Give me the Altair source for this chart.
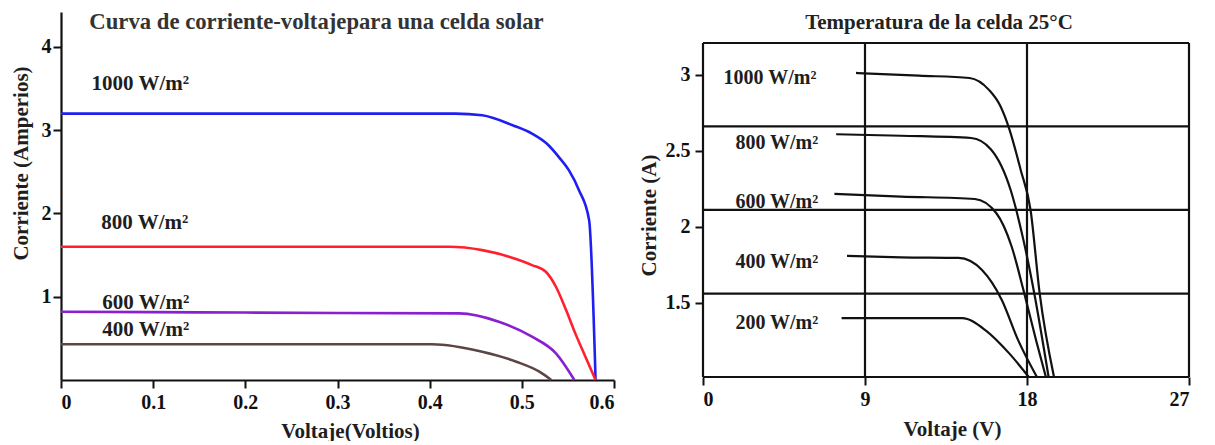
import altair as alt
import pandas as pd

# ---------------- Left panel: single solar cell ----------------
L_V_1000 = [0, 0.10, 0.20, 0.30, 0.428, 0.457, 0.490, 0.511, 0.529, 0.540, 0.551, 0.562, 0.573, 0.580]
L_I_1000 = [3.20, 3.20, 3.20, 3.20, 3.20, 3.18, 3.06, 2.96, 2.82, 2.68, 2.52, 2.28, 1.92, 0.0]
L_V_800 = [0, 0.10, 0.20, 0.30, 0.421, 0.457, 0.486, 0.511, 0.526, 0.537, 0.548, 0.558, 0.569, 0.580]
L_I_800 = [1.60, 1.60, 1.60, 1.60, 1.60, 1.56, 1.48, 1.38, 1.30, 1.12, 0.84, 0.56, 0.28, 0.0]
L_V_600 = [0, 0.10, 0.20, 0.30, 0.432, 0.475, 0.511, 0.537, 0.557]
L_I_600 = [0.82, 0.815, 0.81, 0.805, 0.80, 0.70, 0.52, 0.32, 0.0]
L_V_400 = [0, 0.10, 0.20, 0.30, 0.4025, 0.457, 0.494, 0.519, 0.532]
L_I_400 = [0.43, 0.43, 0.43, 0.43, 0.43, 0.34, 0.22, 0.10, 0.0]

L_SERIES = ["1000", "800", "600", "400"]
L_COLORS = ["#1f1ff2", "#ff1f2e", "#8a1fd2", "#5e4545"]

L_LABELS = ["1000 W/m²", "800 W/m²", "600 W/m²", "400 W/m²"]
L_LABEL_V = [0.086, 0.091, 0.092, 0.092]
L_LABEL_I = [3.55, 1.88, 0.92, 0.60]

L_XTICKS = [0, 0.1, 0.2, 0.3, 0.4, 0.5, 0.6]
L_YTICKS = [1, 2, 3, 4]

# ---------------- Right panel: module at 25 °C ----------------
R_V_1000 = [8.5, 12.0, 14.8, 15.9, 16.5, 17.0, 17.65, 18.2, 18.7, 19.5]
R_I_1000 = [3.013, 2.995, 2.98, 2.90, 2.80, 2.65, 2.375, 2.11, 1.566, 1.013]
R_V_800 = [7.4, 11.0, 14.9, 16.0, 17.1, 17.8, 18.4, 19.2]
R_I_800 = [2.61, 2.60, 2.585, 2.51, 2.24, 1.915, 1.566, 1.013]
R_V_600 = [7.3, 11.0, 15.1, 16.3, 17.15, 17.8, 18.5, 19.05]
R_I_600 = [2.217, 2.20, 2.184, 2.09, 1.87, 1.586, 1.257, 1.013]
R_V_400 = [8.0, 11.0, 14.2, 15.5, 16.6, 17.5, 18.55]
R_I_400 = [1.81, 1.80, 1.796, 1.717, 1.52, 1.257, 1.013]
R_V_200 = [7.7, 11.0, 14.4, 15.7, 17.0, 18.1]
R_I_200 = [1.40, 1.40, 1.40, 1.32, 1.17, 1.013]

R_LABELS = ["1000 W/m²", "800 W/m²", "600 W/m²", "400 W/m²", "200 W/m²"]
R_LABEL_V = [3.72, 4.1, 4.1, 4.1, 4.1]
R_LABEL_I = [2.98, 2.553, 2.164, 1.77, 1.368]

R_GRID_I = [1.013, 1.562, 2.112, 2.661, 3.21]
R_GRID_V = [0, 9, 18, 27]
R_XTICKS = [0, 9, 18, 27]
R_YTICKS = [1.5, 2, 2.5, 3]

FONT = "Liberation Serif"
INK = "#1e1e1e"

# ---------- build tables ----------
def series_frame(names, vs, is_):
    rows = []
    for n, v, i in zip(names, vs, is_):
        for a, b in zip(v, i):
            rows.append({"s": n, "V": a, "I": b})
    return pd.DataFrame(rows)

left_df = series_frame(L_SERIES, [L_V_1000, L_V_800, L_V_600, L_V_400],
                       [L_I_1000, L_I_800, L_I_600, L_I_400])
left_lab = pd.DataFrame({"t": L_LABELS, "V": L_LABEL_V, "I": L_LABEL_I})

right_df = series_frame(["1000", "800", "600", "400", "200"],
                        [R_V_1000, R_V_800, R_V_600, R_V_400, R_V_200],
                        [R_I_1000, R_I_800, R_I_600, R_I_400, R_I_200])
right_lab = pd.DataFrame({"t": R_LABELS, "V": R_LABEL_V, "I": R_LABEL_I})
grid_h = pd.DataFrame({"I": R_GRID_I, "V0": [R_GRID_V[0]] * len(R_GRID_I),
                       "V1": [R_GRID_V[-1]] * len(R_GRID_I)})
grid_v = pd.DataFrame({"V": R_GRID_V, "I0": [R_GRID_I[0]] * len(R_GRID_V),
                       "I1": [R_GRID_I[-1]] * len(R_GRID_V)})

AX = dict(labelFont=FONT, labelFontSize=20, labelFontWeight="bold", labelColor="#111111",
          titleFont=FONT, titleFontSize=21, titleFontWeight="bold", titleColor=INK,
          domainColor="#111111", domainWidth=2.2, tickColor="#111111", tickWidth=2,
          tickSize=8, grid=False, format="~g", titleBaseline="middle")

# ---------- left chart ----------
lx = alt.Scale(domain=[0, 0.6], nice=False, zero=False)
ly = alt.Scale(domain=[0, 4.42], nice=False, zero=False)
lxa = alt.Axis(values=L_XTICKS, title="Voltaje(Voltios)", titleX=289, titleY=51,
               labelPadding=4, **AX)
lya = alt.Axis(values=L_YTICKS, title="Corriente (Amperios)", titleX=-40, titleY=151,
               labelPadding=2, **AX)

left_lines = alt.Chart(left_df).mark_line(strokeWidth=2.6, interpolate="monotone").encode(
    x=alt.X("V:Q", scale=lx, axis=lxa),
    y=alt.Y("I:Q", scale=ly, axis=lya),
    color=alt.Color("s:N", scale=alt.Scale(domain=L_SERIES, range=L_COLORS), legend=None),
    detail="s:N",
)
left_text = alt.Chart(left_lab).mark_text(
    font=FONT, fontSize=21, fontWeight="bold", color=INK
).encode(x=alt.X("V:Q", scale=lx, axis=lxa), y=alt.Y("I:Q", scale=ly, axis=lya), text="t:N")

left = alt.layer(left_lines, left_text).properties(
    width=553, height=368,
    title=alt.TitleParams(
        "Curva de corriente-voltajepara una celda solar",
        anchor="middle", frame="group", dx=-21, offset=-22,
        font=FONT, fontSize=22.7, fontWeight="bold", color="#333333"),
)

# ---------- right chart ----------
rx = alt.Scale(domain=[0, 27], nice=False, zero=False)
ry = alt.Scale(domain=[1.013, 3.414], nice=False, zero=False)
rxa = alt.Axis(values=R_XTICKS, domain=False, title="Voltaje (V)", titleX=249, titleY=52,
               labelPadding=4, **AX)
rya = alt.Axis(values=R_YTICKS, domain=False, title="Corriente (A)", titleX=-54, titleY=203,
               labelPadding=5, **AX)

r_gh = alt.Chart(grid_h).mark_rule(color="#111111", strokeWidth=2.2).encode(
    x=alt.X("V0:Q", scale=rx, axis=rxa),
    x2="V1:Q",
    y=alt.Y("I:Q", scale=ry, axis=rya),
)
r_gv = alt.Chart(grid_v).mark_rule(color="#111111", strokeWidth=2.2).encode(
    x=alt.X("V:Q", scale=rx, axis=rxa),
    y=alt.Y("I0:Q", scale=ry, axis=rya),
    y2="I1:Q",
)
r_lines = alt.Chart(right_df).mark_line(
    color="#111111", strokeWidth=2.2, interpolate="monotone"
).encode(
    x=alt.X("V:Q", scale=rx, axis=rxa),
    y=alt.Y("I:Q", scale=ry, axis=rya),
    detail="s:N",
)
r_text = alt.Chart(right_lab).mark_text(
    font=FONT, fontSize=20, fontWeight="bold", color=INK
).encode(x=alt.X("V:Q", scale=rx, axis=rxa), y=alt.Y("I:Q", scale=ry, axis=rya), text="t:N")

right = alt.layer(r_gh, r_gv, r_lines, r_text).properties(
    width=486, height=365,
    title=alt.TitleParams(
        "Temperatura de la celda 25°C",
        anchor="middle", frame="group", dx=-7, offset=-21,
        font=FONT, fontSize=21, fontWeight="bold", color="#222222"),
)

chart = alt.hconcat(left, right, spacing=89, bounds="flush").properties(
    padding={"left": 10, "top": 11, "right": 5, "bottom": 0},
    background="white",
).configure_view(strokeWidth=0)

chart.save("out.html", embed_options={"renderer": "svg", "actions": False})
